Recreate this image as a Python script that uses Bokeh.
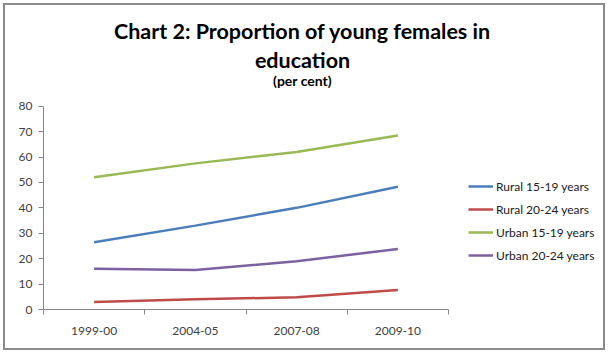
from bokeh.plotting import figure
from bokeh.models import (FixedTicker, Legend, LegendItem, Label, Range1d)
from bokeh.embed import file_html
from bokeh.resources import INLINE

periods = ["1999-00", "2004-05", "2007-08", "2009-10"]
rural_15_19 = [26.5, 33.0, 40.0, 48.3]
rural_20_24 = [3.0, 4.0, 4.8, 7.7]
urban_15_19 = [52.0, 57.5, 62.0, 68.5]
urban_20_24 = [16.0, 15.5, 19.0, 23.8]
y_ticks = [0, 10, 20, 30, 40, 50, 60, 70, 80]

series = [
    ("Rural 15-19 years", rural_15_19, "#4A7EBB"),
    ("Rural 20-24 years", rural_20_24, "#BE4B48"),
    ("Urban 15-19 years", urban_15_19, "#98B954"),
    ("Urban 20-24 years", urban_20_24, "#7D60A0"),
]

FONT = "Lato"
W, H = 608, 353
LEFT, BOTTOM = 43, 44            # canvas space left of / below the frame
AX_RIGHT, AX_TOP = 448, 105.7    # where the x axis ends / where 80 sits (canvas px)
xs = list(range(1, len(periods) + 1))

px_per_cat = (AX_RIGHT - LEFT) / len(periods)
x_end = 0.5 + (W - LEFT) / px_per_cat
px_per_unit = ((H - BOTTOM) - AX_TOP) / 80.0
y_end = 80 + AX_TOP / px_per_unit

p = figure(width=W, height=H, output_backend="svg", toolbar_location=None,
           x_range=Range1d(0.5, x_end), y_range=Range1d(0, y_end),
           styles={"background-color": "white",
                   "box-shadow": "inset 0 0 0 3px white, inset 0 0 0 5px #8c8c8c"})
p.title.visible = False
p.min_border_left = LEFT
p.min_border_right = 0
p.min_border_top = 0
p.min_border_bottom = BOTTOM
p.outline_line_color = None
p.border_fill_alpha = 0
p.background_fill_alpha = 0
p.xgrid.grid_line_color = None
p.ygrid.grid_line_color = None

items = []
for name, vals, color in series:
    r = p.line(xs, vals, line_color=color, line_width=2.5)
    items.append(LegendItem(label=name, renderers=[r]))

# axes
p.xaxis.bounds = (0.5, len(periods) + 0.5)
p.yaxis.bounds = (0, 80)
p.xaxis.ticker = FixedTicker(ticks=xs, minor_ticks=[x + 0.5 for x in range(0, len(periods) + 1)])
p.xaxis.major_label_overrides = {x: lab for x, lab in zip(xs, periods)}
p.xaxis.major_tick_out = 0
p.xaxis.major_tick_in = 0
p.xaxis.minor_tick_out = 5
p.xaxis.minor_tick_in = 0
p.xaxis.major_label_standoff = 12
p.yaxis.ticker = FixedTicker(ticks=y_ticks)
p.yaxis.major_tick_out = 5
p.yaxis.major_tick_in = 0
p.yaxis.major_label_standoff = 6
for ax in (p.xaxis, p.yaxis):
    ax.axis_line_color = "#868686"
    ax.major_tick_line_color = "#868686"
    ax.minor_tick_line_color = "#868686"
    ax.major_label_text_font = FONT
    ax.major_label_text_font_size = "12px"
    ax.major_label_text_color = "#404040"
p.yaxis.minor_tick_line_color = None

fb = H - BOTTOM  # frame bottom in canvas px
legend = Legend(items=items, location=(468 - LEFT, fb - 265), glyph_width=25, glyph_height=20,
                label_height=20, label_standoff=3, spacing=3, padding=0, margin=0,
                border_line_color=None, background_fill_alpha=0,
                label_text_font=FONT, label_text_font_size="12px",
                label_text_color="#202020")
p.add_layout(legend, "center")

# titles (screen units are relative to the frame's bottom-left corner)
def title_label(text, cy, size):
    p.add_layout(Label(x=302 - LEFT, y=fb - cy, x_units="screen", y_units="screen",
                       text=text, text_font=FONT, text_font_style="bold",
                       text_font_size=size, text_align="center",
                       text_baseline="middle", text_color="#000000"))

title_label("Chart 2: Proportion of young females in", 30, "21.5px")
title_label("education", 59, "21.5px")
title_label("(per cent)", 80, "14px")

open("out.html", "w").write(file_html(p, INLINE))
